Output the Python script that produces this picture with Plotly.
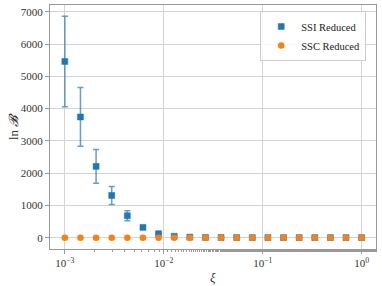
import numpy as np
import plotly.graph_objects as go

xi = list(np.logspace(-3, 0, 20))
ssi_vals = [5460, 3740, 2210, 1310, 680, 320, 125, 45, 18, 8, 5, 4, 3, 3, 2, 2, 2, 2, 2, 2]
ssi_err = [1400, 910, 525, 280, 155, 40, 15, 8, 4, 2, 1, 1, 1, 1, 1, 1, 1, 1, 1, 1]
ssc_vals = [2, 1, 1, 1, 1, 1, 1, 1, 1, 1, 1, 1, 1, 1, 1, 1, 1, 1, 1, 1]
y_ticks = [0, 1000, 2000, 3000, 4000, 5000, 6000, 7000]
x_ticks = [1e-3, 1e-2, 1e-1, 1e0]
x_ticklabels = ["10<sup>−3</sup>", "10<sup>−2</sup>", "10<sup>−1</sup>", "10<sup>0</sup>"]

blue = "#1f77b4"
orange = "#ff7f0e"
font = "Liberation Serif"

fig = go.Figure()
fig.add_trace(go.Scatter(
    x=xi, y=ssi_vals, mode="markers", name="SSI Reduced",
    marker=dict(symbol="square", size=6, color=blue,
                line=dict(width=1, color="rgba(31,119,180,0.5)")),
    error_y=dict(type="data", array=ssi_err, visible=True,
                 color="rgba(31,119,180,0.7)", thickness=1.5, width=3),
))
fig.add_trace(go.Scatter(
    x=xi, y=ssc_vals, mode="markers", name="SSC Reduced",
    marker=dict(symbol="circle", size=6.5, color=orange),
))

fig.update_layout(
    width=382, height=286,
    margin=dict(l=50, r=6, t=5, b=37),
    paper_bgcolor="white", plot_bgcolor="white",
    font=dict(family=font, size=11, color="#333333"),
    showlegend=True,
    legend=dict(x=0.97, y=0.975, xanchor="right", yanchor="top",
                bgcolor="rgba(255,255,255,0.8)", bordercolor="#cccccc",
                borderwidth=1, font=dict(family=font, size=10.5, color="#222"),
                itemwidth=30, tracegroupgap=0),
    annotations=[
        dict(text="<i>ξ</i>", x=0.5, y=0, xref="paper", yref="paper",
             xanchor="center", yanchor="top", yshift=-19, showarrow=False,
             font=dict(family=font, size=13, color="#333")),
        dict(text="ln <i>𝓑</i>", x=0, y=0.5, xref="paper", yref="paper",
             xanchor="center", yanchor="middle", xshift=-37, textangle=-90,
             showarrow=False, font=dict(family=font, size=13, color="#333")),
    ],
)
fig.update_xaxes(
    type="log", range=[-3.15, 0.145], automargin=False,
    tickvals=x_ticks, ticktext=x_ticklabels,
    tickfont=dict(size=11),
    showgrid=True, gridcolor="#d4d4d4", gridwidth=1,
    showline=True, linecolor="#999999", linewidth=1, mirror=True,
    ticks="outside", ticklen=4, tickcolor="#999999",
    minor=dict(ticks="outside", ticklen=2, tickcolor="#999999", showgrid=False),
    zeroline=False,
)
fig.update_yaxes(
    range=[-350, 7210], automargin=False,
    tickvals=y_ticks, tickfont=dict(size=11),
    showgrid=True, gridcolor="#d4d4d4", gridwidth=1,
    showline=True, linecolor="#999999", linewidth=1, mirror=True,
    ticks="outside", ticklen=4, tickcolor="#999999",
    zeroline=False,
)

fig.write_html("out.html", config={"displayModeBar": False},
               post_script="document.body.style.margin='0';")
